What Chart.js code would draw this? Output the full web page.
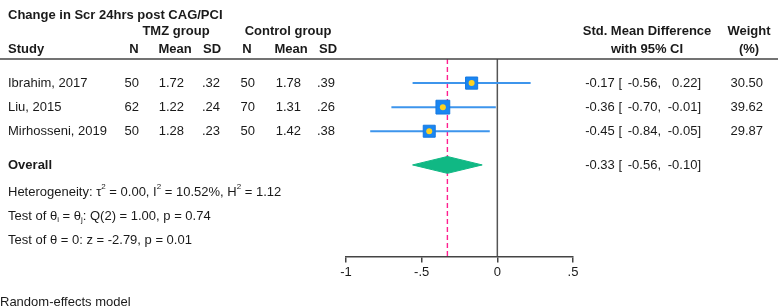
<!DOCTYPE html>
<html>
<head>
<meta charset="utf-8">
<script src="https://cdn.jsdelivr.net/npm/chart.js@4.4.1/dist/chart.umd.min.js"></script>
<style>
  body { margin: 0; background: #fff; }
  canvas { display: block; }
</style>
</head>
<body>
<canvas id="forest" width="778" height="308"></canvas>
<script>
// study data
const studies = ["Ibrahim, 2017", "Liu, 2015", "Mirhosseni, 2019"];
const tmzN = [50, 62, 50];
const tmzMean = [1.72, 1.22, 1.28];
const tmzSD = [0.32, 0.24, 0.23];
const ctlN = [50, 70, 50];
const ctlMean = [1.78, 1.31, 1.42];
const ctlSD = [0.39, 0.26, 0.38];
const smd = [-0.17, -0.36, -0.45];
const ciLow = [-0.56, -0.70, -0.84];
const ciHigh = [0.22, -0.01, -0.05];
const weight = [30.50, 39.62, 29.87];

// overall effect
const overall = [-0.33, -0.56, -0.10];
const xTicks = [-1, -0.5, 0, 0.5];

// row positions (in row units of the y scale)
const rowY = [1, 2, 3];
const overallY = 4.4;
const yTop = 0, yBottom = 8.2;

const FONT = "'Liberation Sans', Arial, sans-serif";
const TEXT = "#1a1a1a";

const fmt2 = v => v.toFixed(2);
const fmtSD = v => v.toFixed(2).replace(/^0/, "");
const fmtTick = v => v === 0 ? "0" : String(v).replace("0.", ".");

// datasets
const datasets = [];

// study points (square + yellow dot)
datasets.push({
    type: "scatter",
    data: smd.map((v, i) => ({ x: v, y: rowY[i] })),
    pointStyle: "circle",
    pointRadius: 3,
    backgroundColor: "#ffd21f",
    borderWidth: 0,
    order: 0
});
datasets.push({
    type: "scatter",
    data: smd.map((v, i) => ({ x: v, y: rowY[i] })),
    pointStyle: "rect",
    pointRadius: weight.map(w => 1.55 * Math.sqrt(w)),
    backgroundColor: "#1a86f2",
    borderColor: "#1679e0",
    borderWidth: 1,
    order: 1
});

// confidence intervals
smd.forEach((v, i) => {
    datasets.push({
        type: "line",
        data: [{ x: ciLow[i], y: rowY[i] }, { x: ciHigh[i], y: rowY[i] }],
        borderColor: "#3d95ec",
        borderWidth: 2,
        pointRadius: 0,
        order: 2
    });
});

// overall diamond
datasets.push({
    type: "line",
    data: [
        { x: overall[1], y: overallY },
        { x: overall[0], y: overallY - 0.35 },
        { x: overall[2], y: overallY },
        { x: overall[0], y: overallY + 0.35 },
        { x: overall[1], y: overallY }
    ],
    borderColor: "#10b884",
    backgroundColor: "#10b884",
    borderWidth: 1,
    pointRadius: 0,
    fill: "shape",
    tension: 0,
    order: 3
});

// overall dashed line
datasets.push({
    type: "line",
    data: [{ x: overall[0], y: yTop }, { x: overall[0], y: yBottom }],
    borderColor: "#ff1f8f",
    borderWidth: 1.4,
    borderDash: [5, 3],
    pointRadius: 0,
    order: 4
});

// no-effect line
datasets.push({
    type: "line",
    data: [{ x: 0, y: yTop }, { x: 0, y: yBottom }],
    borderColor: "#555",
    borderWidth: 1.5,
    pointRadius: 0,
    order: 5
});

function txt(ctx, s, x, y, align, bold, size) {
    ctx.font = (bold ? "bold " : "") + (size || 13) + "px " + FONT;
    ctx.textAlign = align || "left";
    ctx.textBaseline = "middle";
    ctx.fillStyle = TEXT;
    ctx.fillText(s, x, y);
}

// text with small super/subscripts
function rich(ctx, parts, x, y) {
    ctx.textAlign = "left";
    ctx.textBaseline = "middle";
    ctx.fillStyle = TEXT;
    parts.forEach(([s, mode]) => {
        let dy = 0;
        if (mode) {
            ctx.font = "8px " + FONT;
            dy = mode === "sup" ? -6 : 3;
        } else {
            ctx.font = "13px " + FONT;
        }
        ctx.fillText(s, x, y + dy);
        x += ctx.measureText(s).width;
    });
}

const tablePlugin = {
    id: "table",
    afterDraw(chart) {
        const ctx = chart.ctx;
        const y = chart.scales.y;
        const top = chart.chartArea.top;
        ctx.save();

        // title and headers
        txt(ctx, "Change in Scr 24hrs post CAG/PCI", 8, 15, "left", true);
        txt(ctx, "TMZ group", 176, 31, "center", true);
        txt(ctx, "Control group", 288, 31, "center", true);
        txt(ctx, "Std. Mean Difference", 647, 31, "center", true);
        txt(ctx, "Weight", 749, 31, "center", true);
        txt(ctx, "Study", 8, 49, "left", true);
        txt(ctx, "N", 134, 49, "center", true);
        txt(ctx, "Mean", 175, 49, "center", true);
        txt(ctx, "SD", 212, 49, "center", true);
        txt(ctx, "N", 247, 49, "center", true);
        txt(ctx, "Mean", 291, 49, "center", true);
        txt(ctx, "SD", 328, 49, "center", true);
        txt(ctx, "with 95% CI", 647, 49, "center", true);
        txt(ctx, "(%)", 749, 49, "center", true);

        // header rule
        ctx.strokeStyle = "#444";
        ctx.lineWidth = 1.5;
        ctx.beginPath();
        ctx.moveTo(0, top);
        ctx.lineTo(778, top);
        ctx.stroke();

        // study rows
        studies.forEach((name, i) => {
            const py = y.getPixelForValue(rowY[i]);
            txt(ctx, name, 8, py);
            txt(ctx, String(tmzN[i]), 139, py, "right");
            txt(ctx, fmt2(tmzMean[i]), 184, py, "right");
            txt(ctx, fmtSD(tmzSD[i]), 220, py, "right");
            txt(ctx, String(ctlN[i]), 255, py, "right");
            txt(ctx, fmt2(ctlMean[i]), 301, py, "right");
            txt(ctx, fmtSD(ctlSD[i]), 335, py, "right");
            txt(ctx, fmt2(smd[i]) + " [", 622, py, "right");
            txt(ctx, fmt2(ciLow[i]) + ",", 661, py, "right");
            txt(ctx, fmt2(ciHigh[i]) + "]", 701, py, "right");
            txt(ctx, fmt2(weight[i]), 763, py, "right");
        });

        // overall row
        const oy = y.getPixelForValue(overallY);
        txt(ctx, "Overall", 8, oy, "left", true);
        txt(ctx, fmt2(overall[0]) + " [", 622, oy, "right");
        txt(ctx, fmt2(overall[1]) + ",", 661, oy, "right");
        txt(ctx, fmt2(overall[2]) + "]", 701, oy, "right");

        // heterogeneity stats
        rich(ctx, [["Heterogeneity: \u03C4"], ["2", "sup"], [" = 0.00, I"], ["2", "sup"],
                   [" = 10.52%, H"], ["2", "sup"], [" = 1.12"]], 8, y.getPixelForValue(5.55));
        rich(ctx, [["Test of \u03B8"], ["i", "sub"], [" = \u03B8"], ["j", "sub"],
                   [": Q(2) = 1.00, p = 0.74"]], 8, y.getPixelForValue(6.55));
        rich(ctx, [["Test of \u03B8 = 0: z = -2.79, p = 0.01"]], 8, y.getPixelForValue(7.55));

        txt(ctx, "Random-effects model", 0, 302, "left", false, 13);
        ctx.restore();
    }
};

const ctx = document.getElementById("forest").getContext("2d");

new Chart(ctx, {
    type: "scatter",
    data: { datasets: datasets },
    options: {
        responsive: false,
        animation: false,
        layout: { padding: { left: 346, right: 205, top: 59, bottom: 26 } },
        plugins: { legend: { display: false }, tooltip: { enabled: false } },
        scales: {
            x: {
                type: "linear",
                min: xTicks[0],
                max: xTicks[xTicks.length - 1],
                afterBuildTicks: axis => { axis.ticks = xTicks.map(v => ({ value: v })); },
                ticks: {
                    callback: v => fmtTick(v),
                    color: TEXT,
                    font: { family: FONT, size: 13 },
                    padding: 2,
                    maxRotation: 0
                },
                grid: { drawOnChartArea: false, tickLength: 6, color: "#444", lineWidth: 1.5 },
                border: { color: "#444", width: 1.5 }
            },
            y: { display: false, min: yTop, max: yBottom, reverse: true }
        }
    },
    plugins: [tablePlugin]
});
</script>
</body>
</html>
